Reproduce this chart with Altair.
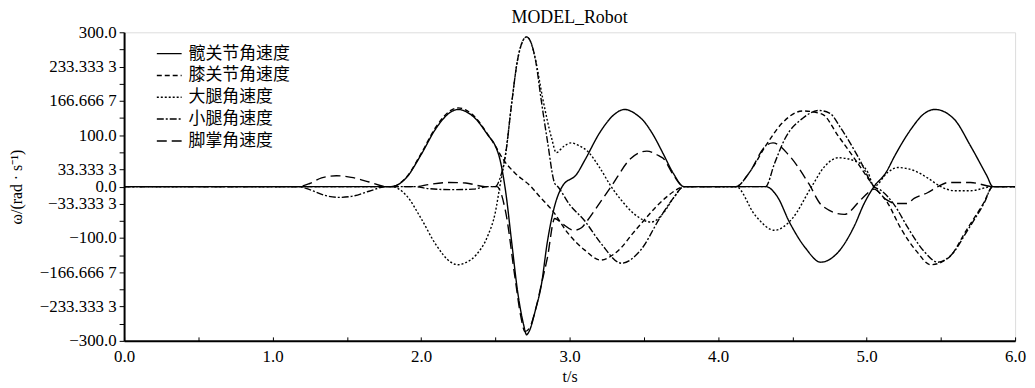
import altair as alt
import pandas as pd

# ---------------- data ----------------
series_names = ["髋关节角速度", "膝关节角速度", "大腿角速度", "小腿角速度", "脚掌角速度"]

hip_t = [0.00, 1.80, 1.90, 2.00, 2.10, 2.20, 2.25, 2.30, 2.37, 2.45, 2.50, 2.53, 2.57, 2.61, 2.65, 2.69, 2.71, 2.73,
         2.77, 2.81, 2.85, 2.90, 2.95, 3.05, 3.10, 3.21, 3.30, 3.37, 3.45, 3.50, 3.57, 3.63, 3.70, 3.77, 4.32, 4.40,
         4.48, 4.59, 4.69, 4.81, 4.92, 4.98, 5.05, 5.13, 5.19, 5.30, 5.38, 5.46, 5.59, 5.70, 5.81, 5.85, 6.00]
hip_v = [0, 0, 17, 62, 113, 145, 150, 146, 131, 100, 79, 54, -11, -108, -204, -268, -288, -280,
         -240, -191, -108, -37, 0, 25, 50, 108, 140, 150, 140, 127, 97, 64, 25, 0, 0, -20,
         -69, -120, -147, -127, -75, -35, 0, 27, 60, 112, 140, 150, 131, 79, 21, 0, 0]

knee_t = [0.00, 1.80, 1.90, 2.00, 2.10, 2.20, 2.25, 2.30, 2.37, 2.45, 2.50, 2.55, 2.63, 2.74, 2.80, 2.88, 2.99,
          3.10, 3.21, 3.28, 3.35, 3.42, 3.50, 3.58, 3.65, 3.72, 3.77, 4.12, 4.21, 4.32, 4.43, 4.57, 4.70, 4.81,
          4.92, 5.05, 5.14, 5.23, 5.34, 5.43, 5.55, 5.68, 5.79, 5.85, 6.00]
knee_v = [0, 0, 18, 64, 116, 148, 153, 149, 133, 101, 79, 54, 27, 0, -20, -45, -91,
          -123, -143, -135, -118, -93, -66, -40, -21, -6, 0, 0, 27, 79, 123, 147, 141, 98,
          54, 0, -31, -81, -127, -152, -139, -81, -31, 0, 0]

thigh_t = [0.00, 1.80, 1.90, 2.00, 2.10, 2.20, 2.25, 2.30, 2.37, 2.45, 2.50, 2.53, 2.57, 2.61, 2.65, 2.68, 2.71,
           2.74, 2.77, 2.82, 2.88, 2.91, 2.96, 3.01, 3.06, 3.12, 3.20, 3.28, 3.35, 3.43, 3.55, 3.63, 3.70, 3.77,
           4.12, 4.25, 4.38, 4.50, 4.63, 4.72, 4.81, 4.92, 5.01, 5.05, 5.14, 5.21, 5.32, 5.41, 5.50, 5.59, 5.70,
           5.85, 6.00]
thigh_v = [0, 0, -17, -62, -113, -147, -152, -148, -133, -95, -50, 0, 65, 162, 247, 280, 291,
           280, 247, 170, 93, 66, 78, 85, 80, 69, 38, 0, -27, -52, -69, -52, -22, 0,
           0, -56, -85, -62, 0, 40, 56, 50, 27, 0, 27, 37, 31, 17, 0, -8, -8,
           0, 0]

shank_t = [0.00, 1.17, 1.25, 1.35, 1.45, 1.55, 1.65, 1.77, 1.95, 2.05, 2.20, 2.35, 2.45, 2.50, 2.53, 2.57, 2.61,
           2.65, 2.68, 2.71, 2.74, 2.77, 2.81, 2.85, 2.90, 2.92, 3.00, 3.10, 3.21, 3.35, 3.48, 3.61, 3.70, 3.77,
           4.32, 4.38, 4.45, 4.57, 4.68, 4.75, 4.83, 4.95, 5.05, 5.10, 5.19, 5.28, 5.39, 5.48, 5.57, 5.68, 5.79,
           5.85, 6.00]
shank_v = [0, 0, -6, -17, -21, -18, -9, 0, 0, -4, -6, -5, 0, 0, 15, 65, 162,
           247, 280, 291, 280, 247, 166, 90, 6, 0, -35, -66, -110, -149, -123, -60, -22, 0,
           0, 45, 93, 133, 148, 143, 112, 54, 0, -8, -37, -81, -127, -147, -133, -85, -33,
           0, 0]

foot_t = [0.00, 1.17, 1.25, 1.33, 1.43, 1.53, 1.65, 1.77, 1.97, 2.05, 2.19, 2.30, 2.43, 2.51, 2.57, 2.63, 2.67,
          2.70, 2.73, 2.77, 2.81, 2.85, 2.90, 2.95, 3.03, 3.08, 3.12, 3.20, 3.28, 3.41, 3.52, 3.60, 3.63, 3.70,
          3.77, 4.12, 4.21, 4.32, 4.37, 4.48, 4.61, 4.70, 4.85, 4.97, 5.05, 5.13, 5.20, 5.27, 5.32, 5.41, 5.48,
          5.55, 5.70, 5.85, 6.00]
foot_v = [0, 0, 6, 17, 21, 18, 9, 0, 0, 4, 8, 7, 0, 0, -50, -172, -250,
          -282, -275, -240, -190, -139, -62, -72, -85, -80, -66, -33, 0, 54, 69, 60, 55, 22,
          0, 0, 27, 79, 85, 60, 6, -37, -54, -23, -5, -25, -33, -33, -23, -12, 0,
          8, 8, 0, 0]

x_ticks = [0.0, 0.5, 1.0, 1.5, 2.0, 2.5, 3.0, 3.5, 4.0, 4.5, 5.0, 5.5, 6.0]
y_ticks = [300, 266.6667, 233.3333, 200, 166.6667, 133.3333, 100, 66.6667, 33.3333, 0,
           -33.3333, -66.6667, -100, -133.3333, -166.6667, -200, -233.3333, -266.6667, -300]
y_tick_labels = ["300.0", "", "233.333 3", "", "166.666 7", "", "100.0", "", "33.333 3", "0.0",
                 "−33.333 3", "", "−100.0", "", "−166.666 7", "", "−233.333 3", "", "−300.0"]

dash_styles = [[1, 0], [5, 3], [2, 2], [7, 2, 2, 2], [10, 5]]

# ---------------- table ----------------
rows = []
for name, ts, vs in zip(series_names,
                        [hip_t, knee_t, thigh_t, shank_t, foot_t],
                        [hip_v, knee_v, thigh_v, shank_v, foot_v]):
    for t, v in zip(ts, vs):
        rows.append({"series": name, "t": t, "v": v})
df = pd.DataFrame(rows)

# label lookup expression for y axis (index from top value)
labels_js = "[" + ",".join("'" + s + "'" for s in y_tick_labels) + "]"
y_label_expr = labels_js + "[round((300 - datum.value) * 0.03)]"

serif = "Liberation Serif"
cjk = "Liberation Serif, Noto Sans CJK SC"

chart = alt.Chart(df).mark_line(
    interpolate="monotone", strokeWidth=1.4, color="black", clip=True
).encode(
    x=alt.X("t:Q",
            scale=alt.Scale(domain=[0, 6], nice=False, zero=False),
            axis=alt.Axis(values=x_ticks,
                          labelExpr="datum.value % 1 == 0 ? format(datum.value, '.1f') : ''",
                          tickSize=alt.ExprRef(expr="-4"), tickColor="black", tickWidth=1,
                          domainColor="black", domainWidth=2,
                          labelFont=serif, labelFontSize=17, labelColor="black", labelPadding=12,
                          labelFlush=False, labelOverlap=False,
                          title="t/s", titleFont=serif, titleFontSize=16, titleFontWeight="normal",
                          titleColor="black", titlePadding=4, grid=False)),
    y=alt.Y("v:Q",
            scale=alt.Scale(domain=[-300, 300], nice=False),
            axis=alt.Axis(values=y_ticks, labelExpr=y_label_expr,
                          tickSize=5, tickColor="black", tickWidth=1,
                          domainColor="black", domainWidth=2,
                          labelFont=serif, labelFontSize=17, labelColor="black", labelPadding=3,
                          labelOverlap=False, labelFlush=False,
                          title="ω/(rad · s⁻¹)", titleFont=serif, titleFontSize=16,
                          titleFontWeight="normal", titleColor="black", titlePadding=15, grid=False)),
    strokeDash=alt.StrokeDash("series:N",
                              scale=alt.Scale(domain=series_names, range=dash_styles),
                              legend=alt.Legend(title=None, orient="none", legendX=32, legendY=8,
                                                symbolType="stroke", symbolSize=625,
                                                symbolStrokeWidth=1.5, symbolStrokeColor="black",
                                                labelFont=cjk, labelFontSize=17, labelColor="black",
                                                labelOffset=6, rowPadding=0, padding=0)),
).properties(
    width=898, height=311,
    title=alt.Title("MODEL_Robot", font=serif, fontSize=18, fontWeight="normal",
                    color="black", anchor="middle", frame="group", offset=-4),
    autosize=alt.AutoSizeParams(type="none"),
    padding={"left": 117, "top": 23, "right": 12, "bottom": 44},
).configure_view(
    stroke="black", strokeWidth=1.8
).configure(background="white")

chart.save("out.html", embed_options={"renderer": "svg", "actions": False})
